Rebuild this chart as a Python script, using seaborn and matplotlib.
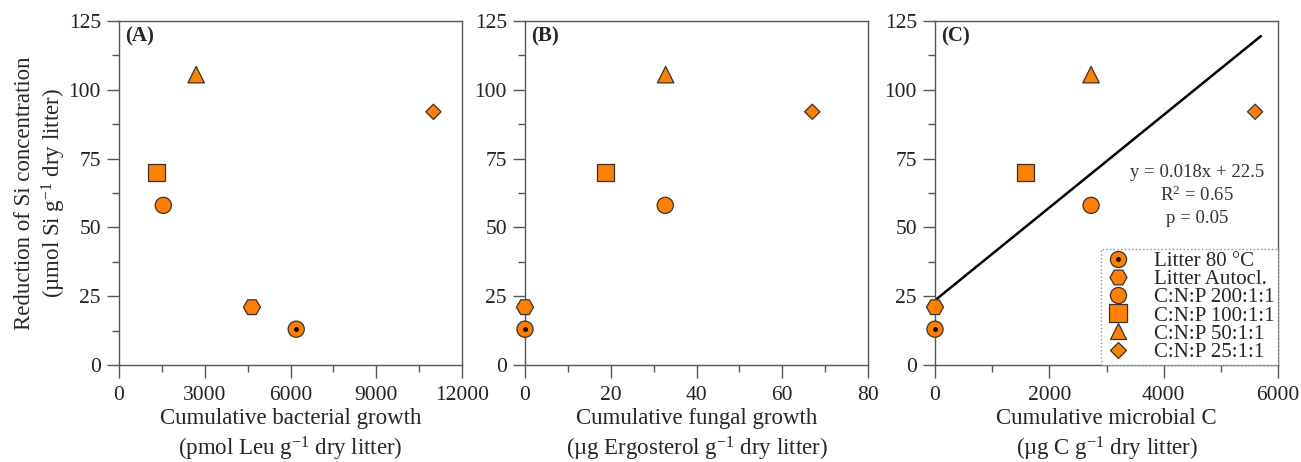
import matplotlib
matplotlib.use("Agg")
import matplotlib.pyplot as plt
from matplotlib.lines import Line2D
from matplotlib.ticker import MultipleLocator
import pandas as pd
import seaborn as sns

# treatments and their markers
treatments = ["Litter 80 °C", "Litter Autocl.", "C:N:P 200:1:1",
              "C:N:P 100:1:1", "C:N:P 50:1:1", "C:N:P 25:1:1"]
si_reduction = [13, 21, 58, 70, 105.5, 92]

bacterial_growth = [6200, 4650, 1550, 1300, 2700, 11000]
fungal_growth = [0, 0, 32.7, 18.8, 32.8, 67]
microbial_c = [0, 0, 2730, 1575, 2730, 5600]

# regression line in panel C (as drawn)
fit_x = [0, 5700]
fit_y = [23.5, 119.5]
fit_text = ["y = 0.018x + 22.5", "R$^2$ = 0.65", "p = 0.05"]

markers = {"Litter 80 °C": "o", "Litter Autocl.": "H", "C:N:P 200:1:1": "o",
           "C:N:P 100:1:1": "s", "C:N:P 50:1:1": "^", "C:N:P 25:1:1": "D"}
sizes = {"Litter 80 °C": 135, "Litter Autocl.": 150, "C:N:P 200:1:1": 135,
         "C:N:P 100:1:1": 150, "C:N:P 50:1:1": 140, "C:N:P 25:1:1": 60}

ORANGE = "#ff8000"
EDGE = "#333333"
SPINE = "#555555"

sns.set_theme(style="white")
plt.rcParams["font.family"] = ["Liberation Serif", "DejaVu Serif"]
plt.rcParams["mathtext.fontset"] = "custom"
plt.rcParams["mathtext.rm"] = "Liberation Serif"
plt.rcParams["mathtext.it"] = "Liberation Serif:italic"

df = pd.DataFrame({
    "treatment": treatments,
    "si": si_reduction,
    "bact": bacterial_growth,
    "fung": fungal_growth,
    "micro": microbial_c,
})

panels = [
    ("bact", "(A)", 12000, 3000, 1500,
     "Cumulative bacterial growth\n(pmol Leu g$^{-1}$ dry litter)"),
    ("fung", "(B)", 80, 20, 10,
     "Cumulative fungal growth\n(\u00b5g Ergosterol g$^{-1}$ dry litter)"),
    ("micro", "(C)", 6000, 2000, 1000,
     "Cumulative microbial C\n(\u00b5g C g$^{-1}$ dry litter)"),
]

fig = plt.figure(figsize=(13.01, 4.62), dpi=100)
lefts = [119 / 1301, 525 / 1301, 935 / 1301]
axes = [fig.add_axes([l, 0.21, 343 / 1301, 0.7446]) for l in lefts]

for ax, (col, tag, xmax, major, minor, xlabel) in zip(axes, panels):
    sns.scatterplot(data=df, x=col, y="si", style="treatment", size="treatment",
                    markers=markers, sizes=sizes, color=ORANGE,
                    edgecolor=EDGE, linewidth=0.9, legend=False, ax=ax,
                    zorder=3, clip_on=False)
    dot = df[df["treatment"] == "Litter 80 °C"]
    ax.scatter(dot[col], dot["si"], s=6, color="black", zorder=4, clip_on=False)

    ax.set_xlim(0, xmax)
    ax.set_ylim(0, 125)
    ax.xaxis.set_major_locator(MultipleLocator(major))
    ax.xaxis.set_minor_locator(MultipleLocator(minor))
    ax.yaxis.set_major_locator(MultipleLocator(25))
    ax.yaxis.set_minor_locator(MultipleLocator(12.5))
    ax.tick_params(which="both", direction="out", bottom=True, left=True,
                   top=False, right=False, color=SPINE, width=1.0,
                   labelsize=15.5, labelcolor="#222222")
    ax.tick_params(which="major", length=9)
    ax.tick_params(axis="x", which="major", pad=6)
    ax.tick_params(axis="y", which="major", pad=4)
    ax.tick_params(which="minor", length=5)
    for sp in ax.spines.values():
        sp.set_color(SPINE)
        sp.set_linewidth(1.0)
    ax.set_xlabel(xlabel, fontsize=16.5, linespacing=1.28, labelpad=2)
    ax.set_ylabel("")
    ax.text(0.018, 0.985, tag, transform=ax.transAxes, fontsize=15,
            fontweight="bold", va="top", ha="left")

axes[0].set_ylabel("Reduction of Si concentration\n(\u00b5mol Si g$^{-1}$ dry litter)",
                   fontsize=16.5, linespacing=1.25)
axes[0].yaxis.set_label_coords(-0.149, 0.5)

axc = axes[2]
sns.lineplot(x=fit_x, y=fit_y, color="black", linewidth=1.8, ax=axc, zorder=2)
for i, line in enumerate(fit_text):
    axc.text(4580, 70 - i * 8.3, line, fontsize=13.5, color="#333333",
             ha="center", va="center")

handles = []
for t in treatments:
    h = Line2D([], [], linestyle="none", marker=markers[t], color=ORANGE,
               markeredgecolor=EDGE, markeredgewidth=0.9,
               markersize=sizes[t] ** 0.5)
    if t == "Litter 80 °C":
        h = (h, Line2D([], [], linestyle="none", marker="o", color="black",
                       markersize=2.5))
    handles.append(h)

leg = axc.legend(handles, treatments, loc="lower right", borderaxespad=0,
                 fontsize=15, frameon=True, fancybox=False, borderpad=0.15,
                 labelspacing=-0.07, handlelength=1.3, handletextpad=1.1)
frame = leg.get_frame()
frame.set_linestyle(":")
frame.set_edgecolor("#777777")
frame.set_linewidth(1.0)
frame.set_facecolor("white")

fig.savefig("out.png", dpi=100)
